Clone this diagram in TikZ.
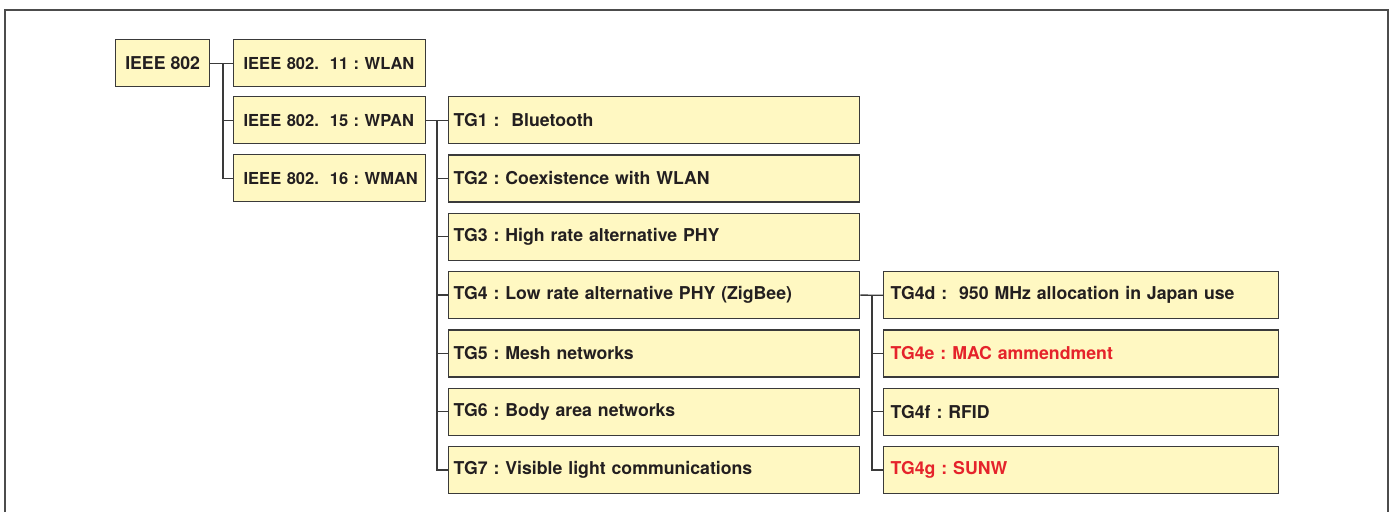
\documentclass[tikz,border=0pt]{standalone}
\usepackage{fontspec}
\setmainfont{TeX Gyre Heros}
\usepackage{tikz}
\definecolor{boxYellow}{HTML}{FFF8C2}
\definecolor{lineGray}{HTML}{3A3A3A}
\definecolor{noteRed}{HTML}{E5232B}
\definecolor{inkDark}{HTML}{231F20}
\newcommand\boxColor{boxYellow}
\newcommand\boxBorder{lineGray}
\newcommand\boxLineWidth{1.3pt}
\newcommand\boxHeight{47pt}
\newcommand\rowStep{58.33}
\newcommand\linkColor{lineGray}
\newcommand\linkLineWidth{1.3pt}
\newcommand\frameColor{black!70}
\tikzset{
  stdbox/.style={draw=\boxBorder, fill=\boxColor, line width=\boxLineWidth,
    minimum height=\boxHeight, anchor=north west, align=left, text=inkDark,
    font=\fontsize{17.7}{21}\selectfont\bfseries\frenchspacing},
  wgbox/.style={stdbox, text width=172pt, inner xsep=10pt,
    font=\fontsize{16.5}{20}\selectfont\bfseries\frenchspacing},
  link/.style={draw=\linkColor, line width=\linkLineWidth}
}

\begin{document}
\begin{tikzpicture}[x=1pt,y=-1pt]

    \useasboundingbox (0,0) rectangle (1392,512);
    \draw [draw=\frameColor, line width=1.2pt] (5,512) -- (5,10) -- (1388,10) -- (1388,512);

    % root and working groups
    \node (Std_802) [stdbox, minimum width=94pt, inner xsep=8pt, align=center] at (115,39) {IEEE 802};
    \node (Std_WLAN) [wgbox] at (233,39) {\mbox{IEEE 802.\ \ 11 : WLAN}};
    \node (Std_WPAN) [wgbox] at (233,96) {\mbox{IEEE 802.\ \ 15 : WPAN}};
    \node (Std_WMAN) [wgbox] at (233,154) {\mbox{IEEE 802.\ \ 16 : WMAN}};

    % task groups of 802.15
    \foreach \i/\txt in {1/{TG1 :\ \ Bluetooth},
                         2/{TG2 : Coexistence with WLAN},
                         3/{TG3 : High rate alternative PHY},
                         4/{TG4 : Low rate alternative PHY (ZigBee)},
                         5/{TG5 : Mesh networks},
                         6/{TG6 : Body area networks},
                         7/{TG7 : Visible light communications}}{
        \node (TG_\i) [stdbox, text width=401pt, inner xsep=5pt] at (448,{96+\rowStep*(\i-1)}) {\txt};
    }

    % TG4 amendments
    \foreach \k/\txt/\col in {0/{TG4d :\ \ 950 MHz allocation in Japan use}/inkDark,
                              1/{TG4e : MAC ammendment}/noteRed,
                              2/{TG4f : RFID}/inkDark,
                              3/{TG4g : SUNW}/noteRed}{
        \node (Sub_\k) [stdbox, text width=381pt, inner xsep=7pt, text=\col] at (883,{271+\rowStep*\k}) {\txt};
    }

    % tree lines
    \coordinate (busA) at ([xshift=-10pt]Std_WLAN.west);
    \draw [link] (Std_802.east) -- (Std_WLAN.west);
    \draw [link] (busA) |- (Std_WPAN.west);
    \draw [link] (busA) |- (Std_WMAN.west);

    \coordinate (busB) at ([xshift=-11pt]TG_1.west);
    \draw [link] (Std_WPAN.east) -- (TG_1.west);
    \foreach \i in {2,...,7}{
        \draw [link] (busB) |- (TG_\i.west);
    }

    \coordinate (busC) at ([xshift=-11pt]Sub_0.west);
    \draw [link] (TG_4.east) -- (Sub_0.west);
    \foreach \k in {1,2,3}{
        \draw [link] (busC) |- (Sub_\k.west);
    }

\end{tikzpicture}
\end{document}
